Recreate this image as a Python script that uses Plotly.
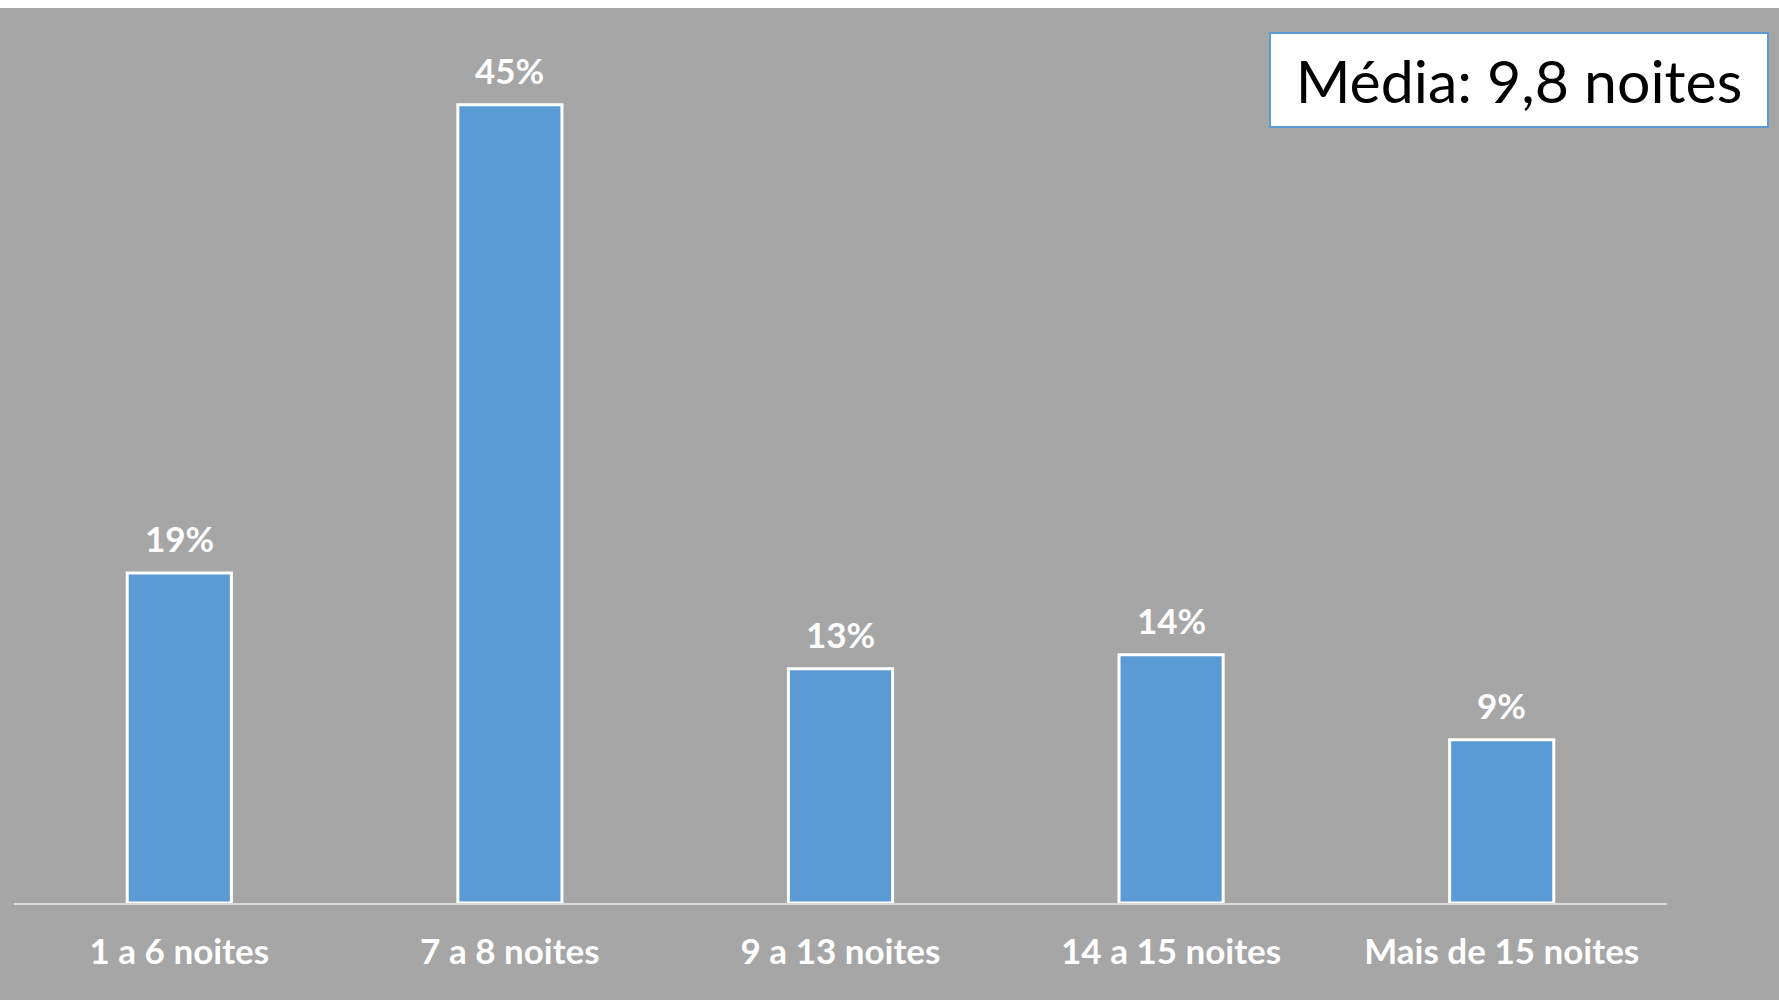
import plotly.graph_objects as go

categories = ["1 a 6 noites", "7 a 8 noites", "9 a 13 noites", "14 a 15 noites", "Mais de 15 noites"]
values = [18.6, 45.0, 13.2, 14.0, 9.2]
labels = ["19%", "45%", "13%", "14%", "9%"]
mean_text = "Média: 9,8 noites"

W, H = 1779, 1000
L, R = 14, 1779 - 1667
T, B = 16, 1000 - 903
plot_h = H - T - B
plot_w = W - L - R

BG = "#A6A6A6"
BAR = "#5B9BD5"
FONT = "Lato"

fig = go.Figure()
fig.add_trace(go.Bar(
    x=categories, y=values,
    marker=dict(color=BAR, line=dict(color="white", width=3)),
    hoverinfo="skip",
))

for c, v, t in zip(categories, values, labels):
    fig.add_annotation(x=c, y=v, xref="x", yref="y", text=t, showarrow=False,
                       yanchor="bottom", yshift=12,
                       font=dict(family=FONT, size=35, color="white", weight="bold"))

# mean box
fig.add_annotation(
    xref="paper", yref="paper",
    x=(1769 - L) / plot_w, y=1 - (32 - T) / plot_h,
    xanchor="right", yanchor="top",
    text=mean_text, showarrow=False,
    width=496, height=92, align="center", valign="middle",
    bgcolor="white", bordercolor=BAR, borderwidth=2, borderpad=0,
    font=dict(family=FONT, size=59, color="black"),
)

# white strip at top
fig.add_shape(type="rect", xref="paper", yref="paper",
              x0=-L / plot_w - 0.01, x1=1 + R / plot_w + 0.01,
              y0=1 + (T - 8) / plot_h, y1=1 + T / plot_h + 0.01,
              fillcolor="white", line=dict(width=0), layer="above")

fig.update_layout(
    width=W, height=H,
    margin=dict(l=L, r=R, t=T, b=B, pad=0),
    paper_bgcolor=BG, plot_bgcolor=BG,
    bargap=0.685,
    showlegend=False,
    xaxis=dict(showline=True, linecolor="#D9D9D9", linewidth=2, ticks="",
               showgrid=False, zeroline=False, ticklabelstandoff=17,
               tickfont=dict(family=FONT, size=35, color="white", weight="bold")),
    yaxis=dict(range=[0, 50], visible=False, showgrid=False, zeroline=False),
)

fig.write_html("out.html", config={"displayModeBar": False},
               post_script="document.body.style.margin='0';document.body.style.overflow='hidden';")
